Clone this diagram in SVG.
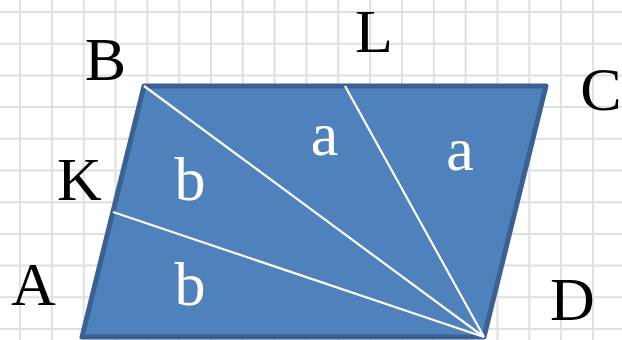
<svg xmlns="http://www.w3.org/2000/svg" width="622" height="340" viewBox="0 0 622 340">
<style>
.grid{stroke:#e0e0e0;stroke-width:2;fill:none}
.shape{fill:#4f81bd;stroke:#3b6092;stroke-width:5;stroke-linejoin:round}
.seg{stroke:#ffffff;stroke-width:2.2;fill:none}
.pt{font-family:"Liberation Serif","Times New Roman",serif;font-size:62px;fill:#000;text-anchor:middle}
.lbl{font-family:"Liberation Serif","Times New Roman",serif;font-size:62px;fill:#fff;text-anchor:middle}
</style>
<rect width="622" height="340" fill="#ffffff"/>
<g id="grid">
<path class="grid" d="M20 0V340M51.8 0V340M83.7 0V340M115.5 0V340M147.3 0V340M179.2 0V340M211 0V340M242.8 0V340M274.6 0V340M306.5 0V340M338.3 0V340M370.1 0V340M402 0V340M433.8 0V340M465.6 0V340M497.5 0V340M529.3 0V340M561.1 0V340M593 0V340"/>
<path class="grid" d="M0 12H622M0 43.7H622M0 75.4H622M0 107.1H622M0 138.8H622M0 170.5H622M0 202.2H622M0 233.9H622M0 265.6H622M0 297.3H622M0 329H622"/>
</g>
<g id="parallelogram">
<polygon class="shape" points="82,337 144,86 546,86 484,337"/>
</g>
<g id="segments">
<line class="seg" x1="484" y1="337" x2="144" y2="86"/>
<line class="seg" x1="484" y1="337" x2="113" y2="212"/>
<line class="seg" x1="484" y1="337" x2="345" y2="86"/>
</g>
<g id="points">
<text class="pt" x="105.5" y="80">B</text>
<text class="pt" x="79.5" y="200">K</text>
<text class="pt" x="33.5" y="305">A</text>
<text class="pt" x="572.5" y="320">D</text>
<text class="pt" x="601" y="110">C</text>
<text class="pt" x="374" y="52">L</text>
</g>
<g id="labels">
<text class="lbl" x="190" y="200">b</text>
<text class="lbl" x="190" y="305">b</text>
<text class="lbl" x="324.5" y="155">a</text>
<text class="lbl" x="460" y="170">a</text>
</g>
</svg>
